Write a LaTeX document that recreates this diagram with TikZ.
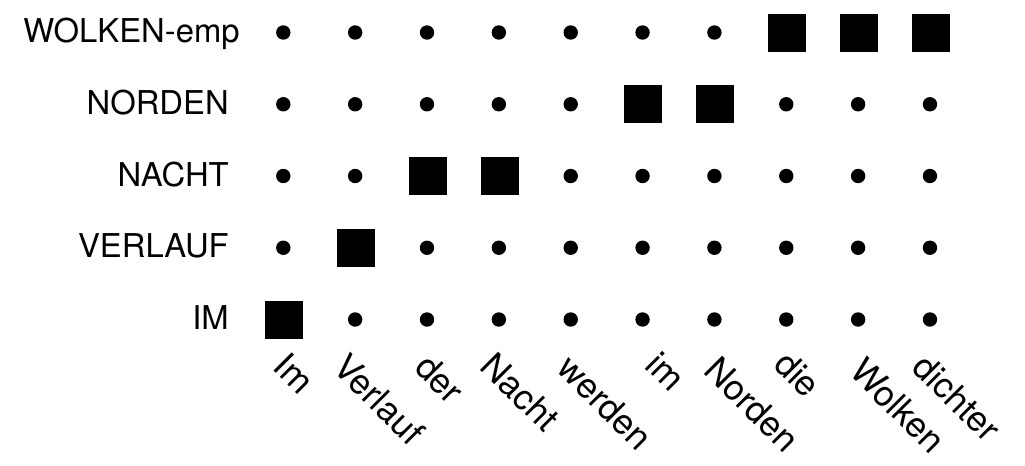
\documentclass[tikz,border=0pt]{standalone}
\usepackage{fontspec}
\setmainfont{TeX Gyre Heros}
\begin{document}
\begin{tikzpicture}[x=0.75pt,y=-0.75pt,
  sq/.style={fill=black,draw=none,minimum size=28.5pt,inner sep=0pt,outer sep=0pt},
  pt/.style={circle,fill=black,draw=none,minimum size=10.8pt,inner sep=0pt},
  rowlab/.style={anchor=base east,inner sep=0pt,font=\fontsize{24.6}{28}\selectfont},
  collab/.style={anchor=north west,rotate=-45,inner sep=0pt,text height=0.74em,text depth=0.22em,font=\fontsize{26.5}{30}\selectfont}]
\useasboundingbox (0,0) rectangle (1025,465);
\def\cx#1{283.3+71.85*#1}
\def\ry#1{319.5-71.75*#1}
\foreach \c in {0,...,9}{
  \foreach \r in {0,...,4}{
    \pgfmathtruncatemacro{\issq}{
      (\c==0 && \r==0) || (\c==1 && \r==1) || (\c==2 && \r==2) || (\c==3 && \r==2) ||
      (\c==5 && \r==3) || (\c==6 && \r==3) || (\c==7 && \r==4) || (\c==8 && \r==4) || (\c==9 && \r==4)}
    \ifnum\issq=1
      \node[sq] (m-\c-\r) at ({\cx{\c}+0.7},{\ry{\r}}) {};
    \else
      \node[pt] (m-\c-\r) at ({\cx{\c}},{\ry{\r}}) {};
    \fi
  }
}
% row labels
\node[rowlab] (r0) at (229,{\ry{0}+10}) {IM};
\node[rowlab] (r1) at (229,{\ry{1}+10}) {VERLAUF};
\node[rowlab] (r2) at (229,{\ry{2}+10}) {NACHT};
\node[rowlab] (r3) at (229,{\ry{3}+10}) {NORDEN};
\node[rowlab] (r4) at (240,{\ry{4}+10}) {WOLKEN-emp};
% column labels (word / horizontal offset / top)
\foreach \w/\dx/\ty [count=\i from 0] in {Im/-5/361,Verlauf/-17/362,der/-7/362,Nacht/-13/361,werden/-8/363,im/8/360,Norden/-5/365,die/-7/359,Wolken/-3/366,dichter/-12/362}{
  \node[collab] (c\i) at ({\cx{\i}+\dx},\ty) {\w};
}
\end{tikzpicture}
\end{document}
